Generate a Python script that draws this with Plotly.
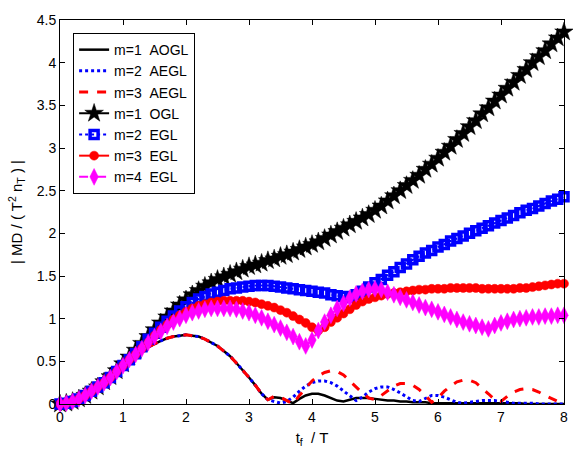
import plotly.graph_objects as go

# sample positions t_f / T
t = [0.0, 0.1, 0.2, 0.3, 0.4, 0.5, 0.6, 0.7, 0.8, 0.9,
     1.0, 1.1, 1.2, 1.3, 1.4, 1.5, 1.6, 1.7, 1.8, 1.9,
     2.0, 2.1, 2.2, 2.3, 2.4, 2.5, 2.6, 2.7, 2.8, 2.9,
     3.0, 3.1, 3.2, 3.3, 3.4, 3.5, 3.6, 3.7, 3.8, 3.9,
     4.0, 4.1, 4.2, 4.3, 4.4, 4.5, 4.6, 4.7, 4.8, 4.9,
     5.0, 5.1, 5.2, 5.3, 5.4, 5.5, 5.6, 5.7, 5.8, 5.9,
     6.0, 6.1, 6.2, 6.3, 6.4, 6.5, 6.6, 6.7, 6.8, 6.9,
     7.0, 7.1, 7.2, 7.3, 7.4, 7.5, 7.6, 7.7, 7.8, 7.9, 8.0]

aogl_m1 = [0.00, 0.01, 0.03, 0.06, 0.10, 0.15, 0.20, 0.25, 0.31, 0.38,
           0.45, 0.52, 0.58, 0.63, 0.67, 0.71, 0.74, 0.77, 0.79, 0.80,
           0.81, 0.80, 0.79, 0.76, 0.72, 0.68, 0.62, 0.56, 0.48, 0.40,
           0.31, 0.22, 0.12, 0.05, 0.08, 0.07, 0.04, 0.01, 0.06, 0.10,
           0.12, 0.12, 0.10, 0.07, 0.04, 0.03, 0.05, 0.07, 0.07, 0.07,
           0.06, 0.05, 0.04, 0.04, 0.03, 0.03, 0.02, 0.02, 0.02, 0.01,
           0.01, 0.01, 0.01, 0.01, 0.01, 0.01, 0.01, 0.01, 0.01, 0.01,
           0.01, 0.01, 0.01, 0.01, 0.00, 0.00, 0.00, 0.00, 0.00, 0.00, 0.00]

aegl_m2 = [0.00, 0.01, 0.03, 0.06, 0.10, 0.15, 0.20, 0.25, 0.31, 0.38,
           0.45, 0.52, 0.58, 0.63, 0.67, 0.71, 0.74, 0.77, 0.79, 0.80,
           0.81, 0.80, 0.79, 0.76, 0.72, 0.68, 0.62, 0.56, 0.48, 0.40,
           0.31, 0.22, 0.12, 0.05, 0.03, 0.01, 0.03, 0.08, 0.15, 0.21,
           0.25, 0.27, 0.27, 0.25, 0.21, 0.15, 0.09, 0.04, 0.08, 0.14,
           0.18, 0.20, 0.20, 0.17, 0.13, 0.08, 0.04, 0.03, 0.07, 0.10,
           0.10, 0.08, 0.05, 0.02, 0.01, 0.02, 0.03, 0.04, 0.04, 0.04,
           0.03, 0.02, 0.01, 0.01, 0.01, 0.01, 0.00, 0.00, 0.00, 0.00, 0.00]

aegl_m3 = [0.00, 0.01, 0.03, 0.06, 0.10, 0.15, 0.20, 0.25, 0.31, 0.38,
           0.45, 0.52, 0.58, 0.63, 0.67, 0.71, 0.74, 0.77, 0.79, 0.80,
           0.81, 0.80, 0.79, 0.76, 0.72, 0.68, 0.62, 0.56, 0.48, 0.40,
           0.31, 0.22, 0.12, 0.05, 0.09, 0.08, 0.04, 0.00, 0.10, 0.19,
           0.27, 0.33, 0.37, 0.39, 0.38, 0.34, 0.27, 0.19, 0.13, 0.07,
           0.05, 0.10, 0.16, 0.21, 0.24, 0.24, 0.22, 0.17, 0.10, 0.02,
           0.07, 0.15, 0.21, 0.26, 0.28, 0.28, 0.25, 0.19, 0.12, 0.05,
           0.03, 0.09, 0.14, 0.17, 0.18, 0.17, 0.14, 0.10, 0.06, 0.03, 0.01]

ogl_m1 = [0.00, 0.01, 0.03, 0.06, 0.10, 0.15, 0.20, 0.26, 0.32, 0.39,
          0.47, 0.55, 0.63, 0.71, 0.79, 0.87, 0.95, 1.02, 1.09, 1.16,
          1.22, 1.28, 1.33, 1.38, 1.42, 1.46, 1.49, 1.52, 1.55, 1.58,
          1.61, 1.63, 1.65, 1.68, 1.70, 1.73, 1.75, 1.78, 1.81, 1.84,
          1.87, 1.90, 1.94, 1.98, 2.02, 2.06, 2.10, 2.14, 2.18, 2.22,
          2.27, 2.32, 2.38, 2.44, 2.50, 2.56, 2.62, 2.68, 2.75, 2.81,
          2.88, 2.95, 3.02, 3.10, 3.17, 3.25, 3.32, 3.40, 3.47, 3.55,
          3.62, 3.70, 3.77, 3.85, 3.92, 4.00, 4.07, 4.14, 4.22, 4.29, 4.36]

egl_m2 = [0.00, 0.01, 0.03, 0.06, 0.10, 0.15, 0.20, 0.25, 0.31, 0.38,
          0.45, 0.52, 0.59, 0.67, 0.76, 0.83, 0.90, 0.97, 1.03, 1.09,
          1.14, 1.19, 1.23, 1.26, 1.29, 1.31, 1.33, 1.35, 1.36, 1.37,
          1.38, 1.39, 1.39, 1.39, 1.38, 1.37, 1.36, 1.35, 1.34, 1.33,
          1.32, 1.31, 1.30, 1.28, 1.27, 1.26, 1.25, 1.28, 1.32, 1.37,
          1.42, 1.46, 1.51, 1.55, 1.60, 1.64, 1.69, 1.73, 1.77, 1.80,
          1.84, 1.87, 1.91, 1.94, 1.97, 2.00, 2.03, 2.06, 2.09, 2.12,
          2.15, 2.18, 2.21, 2.24, 2.27, 2.29, 2.32, 2.35, 2.38, 2.40, 2.43]

egl_m3 = [0.00, 0.01, 0.03, 0.06, 0.10, 0.15, 0.20, 0.25, 0.31, 0.38,
          0.45, 0.52, 0.58, 0.65, 0.72, 0.80, 0.87, 0.93, 0.99, 1.04,
          1.08, 1.12, 1.15, 1.17, 1.19, 1.20, 1.21, 1.21, 1.21, 1.21,
          1.20, 1.19, 1.17, 1.15, 1.13, 1.10, 1.07, 1.03, 0.99, 0.95,
          0.90, 0.86, 0.90, 0.96, 1.01, 1.06, 1.11, 1.16, 1.20, 1.23,
          1.25, 1.27, 1.29, 1.30, 1.31, 1.32, 1.33, 1.34, 1.34, 1.35,
          1.35, 1.35, 1.36, 1.36, 1.36, 1.36, 1.36, 1.35, 1.35, 1.35,
          1.35, 1.35, 1.35, 1.36, 1.36, 1.37, 1.38, 1.39, 1.40, 1.41, 1.41]

egl_m4 = [0.00, 0.01, 0.03, 0.06, 0.10, 0.15, 0.20, 0.25, 0.31, 0.38,
          0.45, 0.52, 0.58, 0.65, 0.72, 0.79, 0.85, 0.91, 0.96, 1.00,
          1.04, 1.07, 1.09, 1.11, 1.12, 1.12, 1.12, 1.12, 1.11, 1.09,
          1.07, 1.04, 1.01, 0.97, 0.93, 0.89, 0.84, 0.79, 0.73, 0.68,
          0.75, 0.86, 0.96, 1.04, 1.12, 1.18, 1.24, 1.29, 1.32, 1.34,
          1.35, 1.34, 1.31, 1.28, 1.25, 1.22, 1.19, 1.16, 1.13, 1.11,
          1.08, 1.05, 1.02, 0.99, 0.96, 0.94, 0.92, 0.90, 0.88, 0.92,
          0.95, 0.97, 0.99, 1.00, 1.01, 1.02, 1.02, 1.03, 1.03, 1.04, 1.04]

x_ticks = [0, 1, 2, 3, 4, 5, 6, 7, 8]
y_ticks = [0, 0.5, 1, 1.5, 2, 2.5, 3, 3.5, 4, 4.5]
y_tick_text = ["0", "0.5", "1", "1.5", "2", "2.5", "3", "3.5", "4", "4.5"]

sp = "\u00a0\u00a0"
fig = go.Figure()
fig.add_trace(go.Scatter(x=t, y=aogl_m1, mode="lines", name="m=1" + sp + "AOGL",
                         line=dict(color="black", width=2.5), cliponaxis=False))
fig.add_trace(go.Scatter(x=t, y=aegl_m2, mode="lines", name="m=2" + sp + "AEGL",
                         line=dict(color="blue", width=3, dash="dot"), cliponaxis=False))
fig.add_trace(go.Scatter(x=t, y=aegl_m3, mode="lines", name="m=3" + sp + "AEGL",
                         line=dict(color="red", width=3, dash="dash"), cliponaxis=False))
fig.add_trace(go.Scatter(x=t, y=ogl_m1, mode="lines+markers", name="m=1" + sp + "OGL",
                         line=dict(color="black", width=2),
                         marker=dict(symbol="star", size=14, color="black",
                                     line=dict(color="black", width=0.5)), cliponaxis=False))
fig.add_trace(go.Scatter(x=t, y=egl_m2, mode="lines+markers", name="m=2" + sp + "EGL",
                         line=dict(color="blue", width=2, dash="dot"),
                         marker=dict(symbol="square-open", size=8, color="blue",
                                     line=dict(color="blue", width=3.5)), cliponaxis=False))
fig.add_trace(go.Scatter(x=t, y=egl_m3, mode="lines+markers", name="m=3" + sp + "EGL",
                         line=dict(color="red", width=2),
                         marker=dict(symbol="circle", size=9, color="red",
                                     line=dict(color="red", width=0.5)), cliponaxis=False))
fig.add_trace(go.Scatter(x=t, y=egl_m4, mode="lines+markers", name="m=4" + sp + "EGL",
                         line=dict(color="magenta", width=2, dash="dashdot"),
                         marker=dict(symbol="diamond-tall", size=12, color="magenta",
                                     line=dict(color="magenta", width=0.5)), cliponaxis=False))

font_family = "Liberation Sans, Arial, sans-serif"
axis_common = dict(showgrid=False, zeroline=False, showline=True, linecolor="black",
                   linewidth=1, mirror="ticks", ticks="inside", ticklen=5,
                   tickcolor="black", tickfont=dict(family=font_family, size=14, color="black"))

fig.update_layout(
    width=573, height=450,
    margin=dict(l=60, r=5, t=20, b=46),
    paper_bgcolor="white", plot_bgcolor="white",
    font=dict(family=font_family, size=14, color="black"),
    xaxis=dict(range=[0, 8], tickvals=x_ticks, ticktext=[str(v) for v in x_ticks],
               title=dict(text="t<sub>f</sub>  / T", standoff=8,
                          font=dict(family=font_family, size=15, color="black")),
               **axis_common),
    yaxis=dict(range=[0, 4.5], tickvals=y_ticks, ticktext=y_tick_text,
               title=dict(text="| MD / ( T<sup>2</sup> n<sub>T</sub> ) |", standoff=10,
                          font=dict(family=font_family, size=15, color="black")),
               **axis_common),
    legend=dict(x=0.026, y=0.966, xanchor="left", yanchor="top",
                bgcolor="white", bordercolor="black", borderwidth=1,
                font=dict(family=font_family, size=14, color="black"),
                itemwidth=30, tracegroupgap=0),
    showlegend=True,
)

fig.write_html("out.html")
